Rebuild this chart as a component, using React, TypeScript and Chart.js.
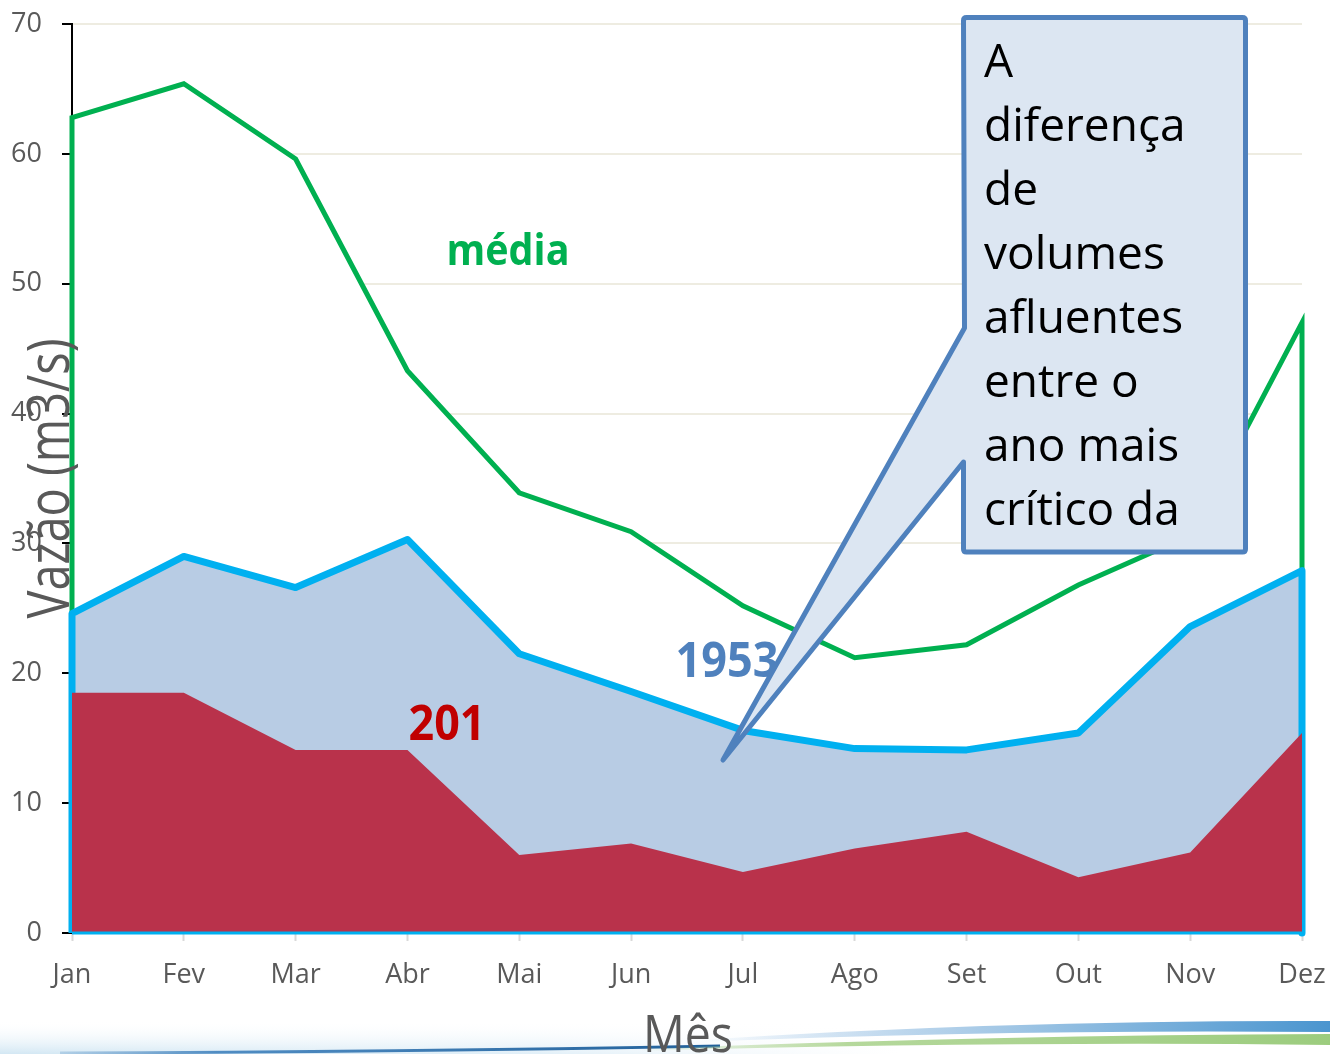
import React, { useEffect, useRef } from "react";
import { Chart, registerables } from "chart.js";

Chart.register(...registerables);

const months = ["Jan", "Fev", "Mar", "Abr", "Mai", "Jun", "Jul", "Ago", "Set", "Out", "Nov", "Dez"];
const media = [62.8, 65.4, 59.6, 43.3, 33.9, 30.9, 25.2, 21.2, 22.2, 26.8, 30.6, 47.0];
const ano1953 = [24.6, 29.0, 26.6, 30.3, 21.5, 18.6, 15.6, 14.2, 14.1, 15.4, 23.6, 27.9];
const ano201x = [18.5, 18.5, 14.1, 14.1, 6.0, 6.9, 4.7, 6.5, 7.8, 4.3, 6.2, 15.4];
const yTicks = [0, 10, 20, 30, 40, 50, 60, 70];
const calloutLines = ["A", "diferença", "de", "volumes", "afluentes", "entre o", "ano mais", "crítico da"];

const FONT = "'Open Sans', 'Noto Sans', sans-serif";

// closed area polygon: down to zero at both ends
const areaPts = (arr: number[]) => [
  { x: 0, y: 0 },
  ...arr.map((v, i) => ({ x: i, y: v })),
  { x: arr.length - 1, y: 0 },
];

function drawFit(ctx: CanvasRenderingContext2D, text: string, x: number, y: number, font: string, targetW: number) {
  ctx.font = font;
  const w = ctx.measureText(text).width;
  ctx.save();
  ctx.translate(x, y);
  ctx.scale(targetW / w, 1);
  ctx.textAlign = "center";
  ctx.textBaseline = "alphabetic";
  ctx.fillText(text, 0, 0);
  ctx.restore();
}

const decor = {
  id: "decor",
  beforeDraw(chart: any) {
    const ctx = chart.ctx as CanvasRenderingContext2D;
    ctx.save();
    ctx.fillStyle = "#ffffff";
    ctx.fillRect(0, 0, chart.width, chart.height);
    // left haze: rows with vertical alpha ramp, each fading horizontally
    for (let y = 1020; y < 1054; y++) {
      const t = (y - 1020) / 34;
      const a = 0.7 * t * t;
      const g = ctx.createLinearGradient(0, 0, 900, 0);
      g.addColorStop(0, `rgba(190,220,238,${a})`);
      g.addColorStop(0.6, `rgba(200,226,242,${a * 0.8})`);
      g.addColorStop(1, "rgba(220,235,245,0)");
      ctx.fillStyle = g;
      ctx.fillRect(0, y, 900, 1);
    }
    // dark thin blue line (left)
    const lg = ctx.createLinearGradient(0, 0, 720, 0);
    lg.addColorStop(0, "rgba(46,117,182,0)");
    lg.addColorStop(0.3, "rgba(46,117,182,0.8)");
    lg.addColorStop(1, "#1f5f99");
    ctx.strokeStyle = lg;
    ctx.lineWidth = 3;
    ctx.beginPath();
    ctx.moveTo(60, 1053);
    ctx.quadraticCurveTo(400, 1052, 720, 1046);
    ctx.stroke();
    // right blue band
    const bg = ctx.createLinearGradient(700, 0, 1330, 0);
    bg.addColorStop(0, "rgba(157,195,230,0)");
    bg.addColorStop(0.4, "#b0cfe9");
    bg.addColorStop(1, "#4a95cf");
    ctx.fillStyle = bg;
    ctx.beginPath();
    ctx.moveTo(700, 1040);
    ctx.quadraticCurveTo(1000, 1020, 1330, 1021);
    ctx.lineTo(1330, 1032);
    ctx.quadraticCurveTo(1000, 1029, 700, 1042);
    ctx.closePath();
    ctx.fill();
    // green band
    const gg = ctx.createLinearGradient(640, 0, 1330, 0);
    gg.addColorStop(0, "rgba(169,209,142,0)");
    gg.addColorStop(0.3, "#b5d89c");
    gg.addColorStop(1, "#9ccc7e");
    ctx.fillStyle = gg;
    ctx.beginPath();
    ctx.moveTo(640, 1049);
    ctx.quadraticCurveTo(1000, 1035, 1330, 1034);
    ctx.lineTo(1330, 1045);
    ctx.quadraticCurveTo(1000, 1041, 640, 1051);
    ctx.closePath();
    ctx.fill();
    ctx.restore();
  },
  afterDatasetsDraw(chart: any) {
    const ctx = chart.ctx as CanvasRenderingContext2D;
    const xs = chart.scales.x;
    const ys = chart.scales.y;
    ctx.save();
    ctx.strokeStyle = "#00b0f0";
    ctx.lineWidth = 3;
    ctx.beginPath();
    ctx.moveTo(xs.getPixelForValue(0), ys.getPixelForValue(0));
    ctx.lineTo(xs.getPixelForValue(months.length - 1), ys.getPixelForValue(0));
    ctx.stroke();
    ctx.restore();
  },
  afterDraw(chart: any) {
    const ctx = chart.ctx as CanvasRenderingContext2D;
    const area = chart.chartArea;
    ctx.save();
    // series labels
    ctx.fillStyle = "#00b050";
    drawFit(ctx, "média", 508, 265, `bold 43px ${FONT}`, 123);
    ctx.fillStyle = "#4f81bd";
    drawFit(ctx, "1953", 727, 677, `bold 49px ${FONT}`, 103);
    ctx.fillStyle = "#c00000";
    drawFit(ctx, "201", 447, 740, `bold 49px ${FONT}`, 77);

    // axis titles
    ctx.fillStyle = "#595959";
    ctx.save();
    ctx.translate(area.left - 3, (area.top + area.bottom) / 2);
    ctx.rotate(-Math.PI / 2);
    drawFit(ctx, "Vazão (m3/s)", 0, 0, `58px ${FONT}`, 280);
    ctx.restore();
    drawFit(ctx, "Mês", (area.left + area.right) / 2 + 1, 1052, `52px ${FONT}`, 90);

    // callout
    const L = 963.5, T = 17.5, R = 1245.5, B = 552, r = 3;
    ctx.beginPath();
    ctx.moveTo(L + r, T);
    ctx.lineTo(R - r, T);
    ctx.quadraticCurveTo(R, T, R, T + r);
    ctx.lineTo(R, B - r);
    ctx.quadraticCurveTo(R, B, R - r, B);
    ctx.lineTo(L + r, B);
    ctx.quadraticCurveTo(L, B, L, B - r);
    ctx.lineTo(L, 462);
    ctx.lineTo(723, 760);
    ctx.lineTo(L + 1, 328);
    ctx.lineTo(L, T + r);
    ctx.quadraticCurveTo(L, T, L + r, T);
    ctx.closePath();
    ctx.fillStyle = "#dce6f2";
    ctx.fill();
    ctx.lineWidth = 5;
    ctx.lineJoin = "round";
    ctx.lineCap = "round";
    ctx.strokeStyle = "#4f81bd";
    ctx.stroke();

    ctx.fillStyle = "#000000";
    ctx.font = `46px ${FONT}`;
    ctx.textAlign = "left";
    ctx.textBaseline = "alphabetic";
    calloutLines.forEach((line, i) => {
      ctx.fillText(line, 984, 77 + i * 64);
    });
    ctx.restore();
  },
};

export default function App() {
  const ref = useRef<HTMLCanvasElement | null>(null);
  useEffect(() => {
    if (!ref.current) return;
    const chart = new Chart(ref.current, {
      type: "line",
      data: {
        datasets: [
          {
            label: "201x",
            data: areaPts(ano201x),
            borderWidth: 0,
            borderColor: "rgba(0,0,0,0)",
            backgroundColor: "#b9324b",
            fill: "origin",
            pointRadius: 0,
            tension: 0,
            order: 1,
            clip: false,
          },
          {
            label: "1953",
            data: areaPts(ano1953),
            borderWidth: 7,
            borderColor: "#00b0f0",
            backgroundColor: "#b8cce4",
            fill: "origin",
            pointRadius: 0,
            tension: 0,
            order: 2,
            clip: false,
            borderJoinStyle: "round",
          },
          {
            label: "média",
            data: areaPts(media),
            borderWidth: 5,
            borderColor: "#00b050",
            backgroundColor: "#ffffff",
            fill: "origin",
            pointRadius: 0,
            tension: 0,
            order: 3,
            clip: false,
          },
        ],
      },
      options: {
        animation: false,
        responsive: false,
        devicePixelRatio: 1,
        layout: { padding: { top: 24, right: 28, left: 0, bottom: 0 } },
        plugins: {
          legend: { display: false },
          tooltip: { enabled: false },
          title: { display: false },
        },
        scales: {
          x: {
            type: "linear",
            min: 0,
            max: months.length - 1,
            afterBuildTicks: (s: any) => {
              s.ticks = months.map((_, i) => ({ value: i }));
            },
            afterFit: (s: any) => {
              s.height = 121;
              s.paddingLeft = 0;
              s.paddingRight = 0;
            },
            ticks: {
              callback: (v: any) => months[v as number] ?? "",
              color: "#595959",
              font: { family: FONT, size: 27 },
              padding: 18,
              maxRotation: 0,
              autoSkip: false,
            },
            grid: {
              drawOnChartArea: false,
              drawTicks: true,
              tickLength: 8,
              tickColor: "#d9d9d9",
              tickWidth: 2,
              color: "#d9d9d9",
            },
            border: { color: "#d9d9d9", width: 2 },
          },
          y: {
            min: 0,
            max: 70,
            afterBuildTicks: (s: any) => {
              s.ticks = yTicks.map((v) => ({ value: v }));
            },
            afterFit: (s: any) => {
              s.width = 72;
              s.paddingTop = 0;
              s.paddingBottom = 0;
            },
            ticks: {
              color: "#595959",
              font: { family: FONT, size: 27 },
              padding: 20,
            },
            grid: {
              color: "#eeece1",
              lineWidth: 2,
              tickColor: "#000000",
              tickLength: 10,
              tickWidth: 2,
            },
            border: { color: "#000000", width: 2 },
          },
        },
      },
      plugins: [decor],
    });
    return () => chart.destroy();
  }, []);
  return (
    <div style={{ position: "fixed", left: 0, top: 0, width: 1330, height: 1054, background: "#fff" }}>
      <canvas ref={ref} width={1330} height={1054} style={{ display: "block" }} />
    </div>
  );
}
